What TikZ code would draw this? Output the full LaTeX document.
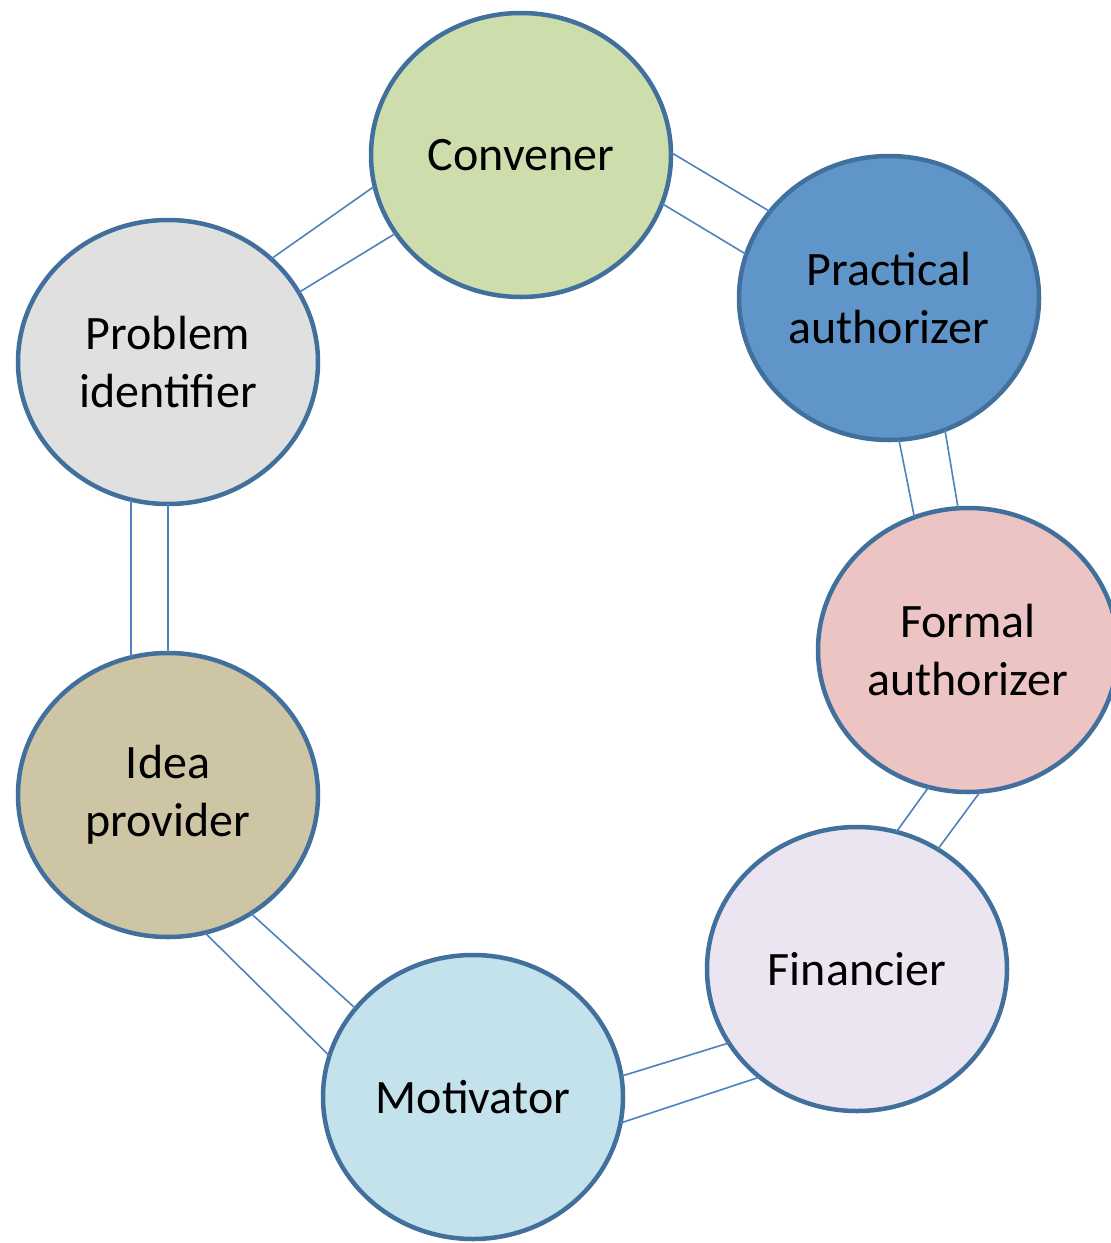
\documentclass[tikz,border=0pt]{standalone}
\usepackage{fontspec}
\setmainfont{Carlito}
\usetikzlibrary{shapes.geometric}
\definecolor{ringedge}{HTML}{41709C}
\definecolor{linkblue}{HTML}{4F81BD}
\definecolor{convfill}{HTML}{CDDDAC}
\definecolor{pracfill}{HTML}{5F95C8}
\definecolor{formfill}{HTML}{EBC4C3}
\definecolor{finfill}{HTML}{EAE5F1}
\definecolor{motfill}{HTML}{C4E2EC}
\definecolor{ideafill}{HTML}{CDC5A4}
\definecolor{probfill}{HTML}{E0E0E0}

\begin{document}
\begin{tikzpicture}[x=1pt,y=-1pt,
	role/.style={ellipse,draw=ringedge,line width=4.5pt,minimum width=300pt,minimum height=284pt,inner sep=0pt,outer sep=0pt,align=center,font=\fontsize{48}{58}\selectfont},
	link/.style={draw=linkblue,line width=1.6pt}]
	\clip(0,0) rectangle (1111,1243);
	% the seven roles
	\node[role,fill=convfill](conv)at(521,155){Convener};
	\node[role,fill=pracfill](prac)at(889,298){Practical\\authorizer};
	\node[role,fill=formfill](form)at(968,650){Formal\\authorizer};
	\node[role,fill=finfill](fin)at(857,969){Financier};
	\node[role,fill=motfill](mot)at(473,1097){Motivator};
	\node[role,fill=ideafill](idea)at(168,795){Idea\\provider};
	\node[role,fill=probfill](prob)at(168,362){Problem\\identifier};
				% double links round the ring
				\draw[link](prob.45)--(conv.192);
				\draw[link](prob.28)--(conv.212);
				\draw[link](conv.1)--(prac.144);
				\draw[link](conv.341)--(prac.163);
				\draw[link](prac.274)--(form.112);
				\draw[link](prac.293)--(form.94);
				\draw[link](form.254)--(fin.74);
				\draw[link](form.275)--(fin.56);
				\draw[link](fin.210)--(mot.8);
				\draw[link](fin.228)--(mot.350);
				\draw[link](mot.164)--(idea.285);
				\draw[link](mot.143)--(idea.305);
				\draw[link](idea.105)--(prob.255);
				\draw[link](idea.90)--(prob.270);
\end{tikzpicture}
\end{document}
